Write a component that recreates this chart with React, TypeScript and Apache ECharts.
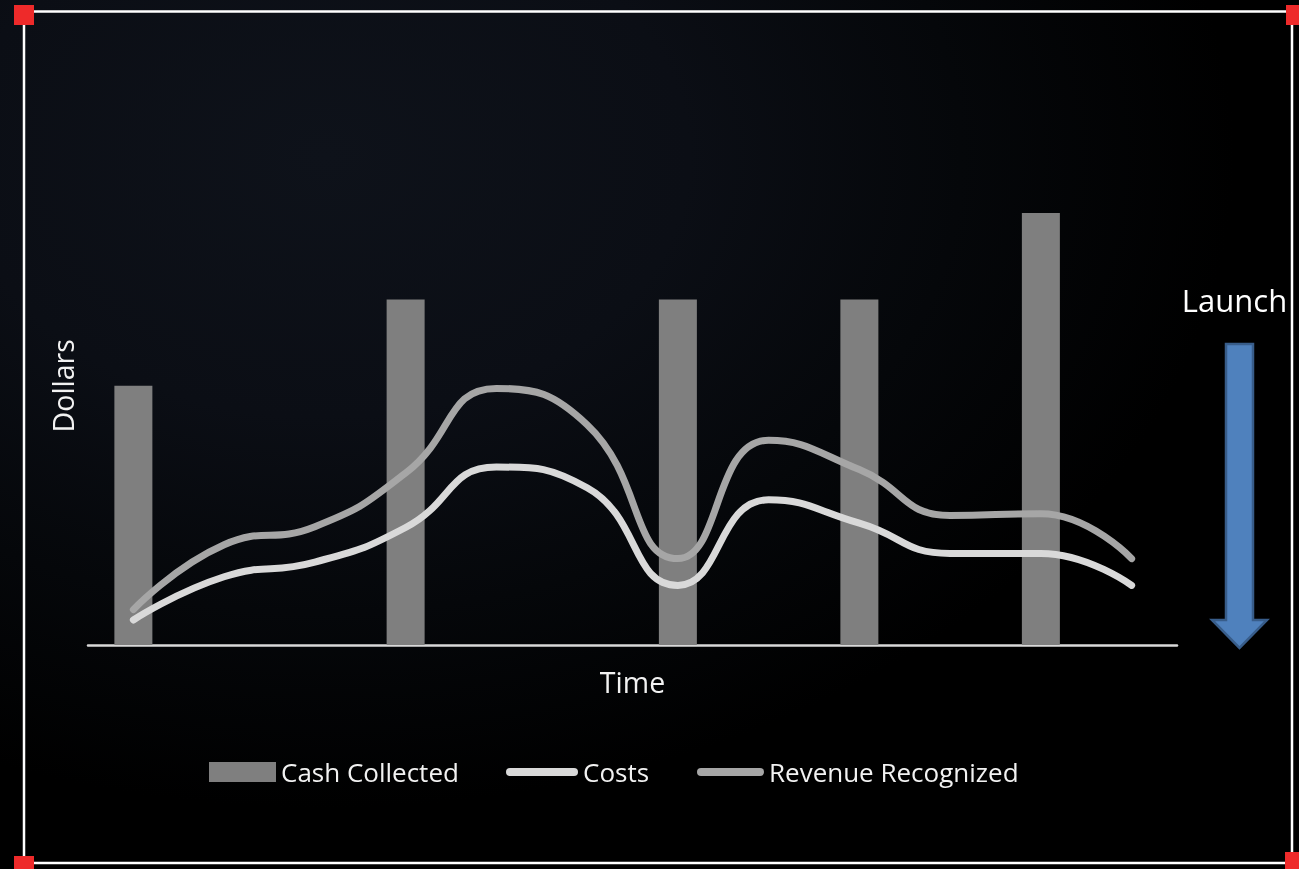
import React, { useEffect, useRef } from "react";
import * as echarts from "echarts";

const categories = ["T1", "T2", "T3", "T4", "T5", "T6", "T7", "T8", "T9", "T10", "T11", "T12"];
const cashCollected = [3, null, null, 4, null, null, 4, null, 4, null, 5, null];
const costs = [0.29, 0.79, 0.96, 1.36, 2.06, 1.82, 0.69, 1.68, 1.41, 1.06, 1.06, 0.69];
const revenueRecognized = [0.41, 1.16, 1.37, 1.99, 2.97, 2.55, 1.0, 2.37, 2.03, 1.5, 1.52, 1.0];
const seriesNames = ["Cash Collected", "Costs", "Revenue Recognized"];
const xTitle = "Time";
const yTitle = "Dollars";
const launchLabel = "Launch";

const FONT = "'Open Sans', 'Noto Sans', sans-serif";
const TEXT = "#f2f2f2";

const capsule = (w: number, h: number) => {
  const r = h / 2;
  return `path://M${r},0 L${w - r},0 A${r},${r} 0 0 1 ${w - r},${h} L${r},${h} A${r},${r} 0 0 1 ${r},0 Z`;
};

export default function App() {
  const ref = useRef<HTMLDivElement>(null);
  useEffect(() => {
    if (!ref.current) return;
    const chart = echarts.init(ref.current, null, { renderer: "svg" });
    const legendBase = {
      orient: "horizontal",
      padding: 0,
      selectedMode: false,
      top: 759,
      textStyle: { color: TEXT, fontSize: 26, fontFamily: FONT },
    };
    chart.setOption({
      animation: false,
      backgroundColor: "transparent",
      textStyle: { fontFamily: FONT },
      grid: { left: 88, right: 122, top: 126.6, bottom: 224, containLabel: false },
      xAxis: {
        type: "category",
        data: categories,
        boundaryGap: true,
        axisLine: { show: true, lineStyle: { color: "#d9d9d9", width: 2.5 } },
        axisTick: { show: false },
        axisLabel: { show: false },
        splitLine: { show: false },
        name: xTitle,
        nameLocation: "middle",
        nameGap: 22,
        nameTextStyle: { color: TEXT, fontSize: 28.5, fontFamily: FONT },
      },
      yAxis: {
        type: "value",
        min: 0,
        max: 6,
        axisLine: { show: false },
        axisTick: { show: false },
        axisLabel: { show: false },
        splitLine: { show: false },
        name: yTitle,
        nameLocation: "middle",
        nameRotate: 90,
        nameGap: 11,
        nameTextStyle: { color: TEXT, fontSize: 28.5, fontFamily: FONT },
      },
      legend: [
        {
          ...legendBase,
          data: [{ name: seriesNames[0], icon: "rect" }],
          left: 209,
          itemWidth: 67,
          itemHeight: 20,
        },
        {
          ...legendBase,
          data: [{ name: seriesNames[1], icon: capsule(72, 8) }],
          left: 506,
          itemWidth: 72,
          itemHeight: 8,
        },
        {
          ...legendBase,
          data: [{ name: seriesNames[2], icon: capsule(67, 8) }],
          left: 697,
          itemWidth: 67,
          itemHeight: 8,
        },
      ],
      series: [
        {
          name: seriesNames[0],
          type: "bar",
          data: cashCollected,
          barWidth: 38,
          itemStyle: { color: "#7f7f7f" },
          z: 1,
        },
        {
          name: seriesNames[1],
          type: "line",
          data: costs,
          smooth: 0.5,
          showSymbol: false,
          symbol: "none",
          lineStyle: { color: "#d9d9d9", width: 7, cap: "round", join: "round" },
          itemStyle: { color: "#d9d9d9" },
          z: 3,
        },
        {
          name: seriesNames[2],
          type: "line",
          data: revenueRecognized,
          smooth: 0.5,
          showSymbol: false,
          symbol: "none",
          lineStyle: { color: "#a6a6a6", width: 7, cap: "round", join: "round" },
          itemStyle: { color: "#a6a6a6" },
          z: 2,
        },
      ],
      graphic: [
        {
          type: "rect",
          shape: { x: 24, y: 11.5, width: 1268, height: 851.5 },
          style: { fill: "transparent", stroke: "#ffffff", lineWidth: 2.5 },
          silent: true,
        },
        { type: "rect", shape: { x: 14, y: 5, width: 20, height: 20 }, style: { fill: "#ee2a2a" } },
        { type: "rect", shape: { x: 1286, y: 5, width: 20, height: 20 }, style: { fill: "#ee2a2a" } },
        { type: "rect", shape: { x: 14, y: 856, width: 20, height: 20 }, style: { fill: "#ee2a2a" } },
        { type: "rect", shape: { x: 1285, y: 852, width: 20, height: 20 }, style: { fill: "#ee2a2a" } },
        {
          type: "polygon",
          shape: {
            points: [
              [1226, 344],
              [1253, 344],
              [1253, 620],
              [1267, 620],
              [1239.5, 648],
              [1212, 620],
              [1226, 620],
            ],
          },
          style: { fill: "#4f81bd", stroke: "#385d8a", lineWidth: 2.5 },
        },
        {
          type: "text",
          x: 1234.5,
          y: 300,
          style: {
            text: launchLabel,
            fill: "#ffffff",
            fontSize: 31,
            fontFamily: FONT,
            textAlign: "center",
            textVerticalAlign: "middle",
          },
        },
      ],
    });
    return () => chart.dispose();
  }, []);
  return (
    <div
      style={{
        position: "fixed",
        left: 0,
        top: 0,
        width: "1299px",
        height: "869px",
        background:
          "radial-gradient(ellipse 70% 75% at 25% 18%, #0e121a 0%, #0b0e15 40%, #05070a 70%, #000000 100%)",
      }}
    >
      <div ref={ref} style={{ width: "1299px", height: "869px" }} />
    </div>
  );
}
